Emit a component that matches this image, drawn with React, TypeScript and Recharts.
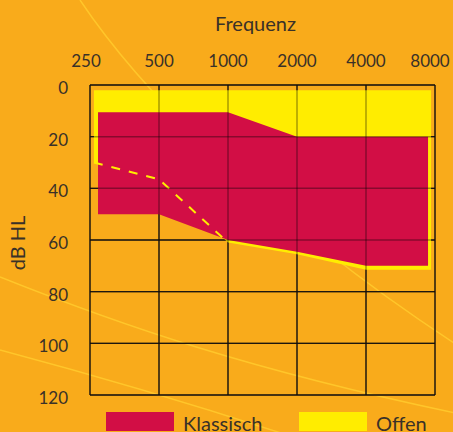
import React from "react";
import {
  ComposedChart,
  Area,
  Line,
  XAxis,
  YAxis,
  CartesianGrid,
  ReferenceLine,
  Legend,
  Label,
} from "recharts";

// Frequency ticks (Hz) and level ticks (dB HL)
const freqTicks = [250, 500, 1000, 2000, 4000, 8000];
const dbTicks = [0, 20, 40, 60, 80, 100, 120];

// "Klassisch" fitting range (red)
const klassischFreq = [271, 500, 1000, 2000, 4000, 7460];
const klassischTop = [10.5, 10.5, 10.5, 20, 20, 20];
const klassischBottom = [50, 50, 60, 64.5, 70, 70];

// "Offen" fitting range (yellow)
const offenFreq = [260, 500, 1000, 2000, 4000, 7690];
const offenTop = [2, 2, 2, 2, 2, 2];
const offenBottom = [30, 36.5, 61, 65.5, 71.5, 71.5];

// dashed border of the open range over the classic range
const dashedFreq = [260, 500, 1000];
const dashedDb = [30, 36.5, 61];

const klassischData = klassischFreq.map((f, i) => ({
  freq: f,
  range: [klassischTop[i], klassischBottom[i]],
}));
const offenData = offenFreq.map((f, i) => ({
  freq: f,
  range: [offenTop[i], offenBottom[i]],
}));
const dashedData = dashedFreq.map((f, i) => ({ freq: f, db: dashedDb[i] }));

const ORANGE = "#F9AB1B";
const RED = "#D20E45";
const YELLOW = "#FFED00";
const TEXT = "#3a3128";
const GRID = "#2b2218";
const FONT = "Lato, 'Open Sans', sans-serif";

const XTick = (props: any) => {
  const { x, y, payload, index } = props;
  const dx = index === 0 ? -4 : index === freqTicks.length - 1 ? -5 : 0;
  return (
    <text
      x={x + dx}
      y={y - 18}
      textAnchor="middle"
      fill={TEXT}
      fontSize={17}
      fontFamily={FONT}
    >
      {payload.value}
    </text>
  );
};

const YTick = (props: any) => {
  const { x, y, payload } = props;
  return (
    <text
      x={x - 22}
      y={y + 9}
      textAnchor="end"
      fill={TEXT}
      fontSize={17}
      fontFamily={FONT}
    >
      {payload.value}
    </text>
  );
};

const renderLegend = (props: any) => {
  const items = (props.payload || []).filter((p: any) => p.type !== "none");
  return (
    <div style={{ display: "flex", fontFamily: FONT }}>
      {items.map((p: any, i: number) => (
        <div
          key={i}
          style={{
            display: "flex",
            alignItems: "flex-start",
            width: i === 0 ? 193 : 150,
          }}
        >
          <div
            style={{
              width: 68,
              height: 19,
              background: p.color,
              flex: "0 0 auto",
            }}
          />
          <span
            style={{
              marginLeft: 9,
              fontSize: 20,
              color: TEXT,
              lineHeight: "20px",
              marginTop: 1,
            }}
          >
            {p.value}
          </span>
        </div>
      ))}
    </div>
  );
};

export default function App() {
  return (
    <div
      style={{
        position: "fixed",
        left: 0,
        top: 0,
        width: 453,
        height: 432,
        background: ORANGE,
        overflow: "hidden",
      }}
    >
      <svg
        width={453}
        height={432}
        style={{ position: "absolute", left: 0, top: 0 }}
      >
        <g fill="none" stroke="#FFC62A" strokeWidth={1.5}>
          <path d="M80,0 C130,75 250,210 460,347" />
          <path d="M0,277 C120,325 250,370 460,414" />
          <path d="M0,350 Q150,390 290,436" />
        </g>
      </svg>
      <div style={{ position: "absolute", left: 0, top: 0 }}>
        <ComposedChart
          width={453}
          height={432}
          margin={{ top: 0, right: 18, bottom: 17, left: 0 }}
        >
          <CartesianGrid stroke={GRID} strokeWidth={1.3} />
          <XAxis
            dataKey="freq"
            type="number"
            scale="log"
            domain={[250, 8000]}
            ticks={freqTicks}
            interval={0}
            orientation="top"
            height={85}
            axisLine={false}
            tickLine={false}
            tickSize={0}
            tickMargin={0}
            tick={<XTick />}
            allowDataOverflow
          >
            <Label
              content={(p: any) => {
                const vb = p.viewBox || {};
                return (
                  <text
                    x={vb.x + vb.width / 2 - 7}
                    y={31}
                    textAnchor="middle"
                    fill={TEXT}
                    fontSize={20}
                    fontFamily={FONT}
                  >
                    Frequenz
                  </text>
                );
              }}
            />
          </XAxis>
          <YAxis
            type="number"
            domain={[0, 120]}
            ticks={dbTicks}
            interval={0}
            reversed
            width={90}
            axisLine={false}
            tickLine={false}
            tickSize={0}
            tickMargin={0}
            tick={<YTick />}
          >
            <Label
              content={(p: any) => {
                const vb = p.viewBox || {};
                const cx = 25;
                const cy = vb.y + vb.height / 2 + 3;
                return (
                  <text
                    x={cx}
                    y={cy}
                    transform={`rotate(-90 ${cx} ${cy})`}
                    textAnchor="middle"
                    fill={TEXT}
                    fontSize={20}
                    fontFamily={FONT}
                  >
                    dB HL
                  </text>
                );
              }}
            />
          </YAxis>
          <Area
            data={offenData}
            dataKey="range"
            name="Offen"
            type="linear"
            stroke="none"
            fill={YELLOW}
            fillOpacity={1}
            isAnimationActive={false}
            dot={false}
            activeDot={false}
          />
          <Area
            data={klassischData}
            dataKey="range"
            name="Klassisch"
            type="linear"
            stroke="none"
            fill={RED}
            fillOpacity={1}
            isAnimationActive={false}
            dot={false}
            activeDot={false}
          />
          <Line
            data={dashedData}
            dataKey="db"
            type="linear"
            stroke={YELLOW}
            strokeWidth={2}
            strokeDasharray="9 9"
            dot={false}
            activeDot={false}
            legendType="none"
            isAnimationActive={false}
          />
          {freqTicks.map((f) => (
            <ReferenceLine
              key={"vx" + f}
              x={f}
              stroke="#000"
              strokeOpacity={0.35}
              strokeWidth={1.5}
            />
          ))}
          {dbTicks.map((d) => (
            <ReferenceLine
              key={"hy" + d}
              y={d}
              stroke="#000"
              strokeOpacity={0.35}
              strokeWidth={1.5}
            />
          ))}
          <Legend
            content={renderLegend}
            payload={[
              { value: "Klassisch", type: "rect", color: RED, id: "k" },
              { value: "Offen", type: "rect", color: YELLOW, id: "o" },
            ]}
            wrapperStyle={{ left: 106, top: 412, width: 347, height: 20 }}
          />
        </ComposedChart>
      </div>
    </div>
  );
}
